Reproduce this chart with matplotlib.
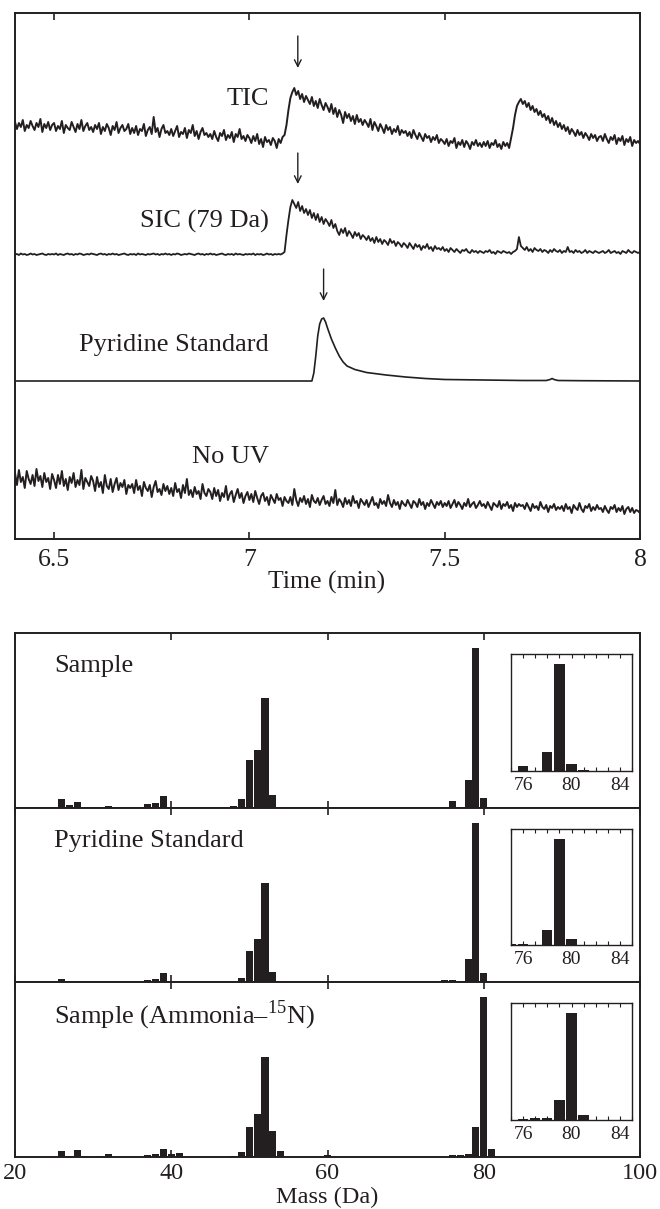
import numpy as np
import matplotlib.pyplot as plt

plt.rcParams['font.family'] = ['Liberation Serif', 'DejaVu Serif']
plt.rcParams['mathtext.fontset'] = 'custom'
plt.rcParams['mathtext.rm'] = 'Liberation Serif'

INK = '#231f20'

# ---- chromatograms (sampled every 0.005 min, 6.40 .. 8.00) ----
time_min = np.round(np.arange(6.40, 8.0001, 0.005), 3)

tic_signal = [
    28, 21, 27, 23, 30, 19, 25, 22, 29, 24, 20, 27, 23, 31, 18, 26, 22, 28, 20, 25,
    27, 19, 24, 21, 29, 17, 25, 22, 20, 28, 23, 18, 26, 21, 30, 19, 24, 27, 20, 23,
    18, 25, 21, 27, 16, 23, 19, 26, 22, 15, 24, 20, 28, 17, 22, 25, 19, 21, 26, 16,
    22, 17, 24, 15, 21, 19, 26, 14, 20, 23, 16, 33, 18, 22, 13, 21, 25, 17, 19, 15,
    21, 14, 19, 24, 13, 18, 16, 22, 12, 20, 17, 25, 14, 19, 11, 18, 22, 15, 17, 13,
    16, 11, 19, 13, 9, 17, 14, 20, 10, 15, 12, 18, 8, 16, 13, 21, 11, 14, 9, 15,
    12, 7, 14, 9, 16, 6, 11, 3, 13, 8, 10, 5, 12, 9, 2, 11, 7, 13, 15, 25,
    40, 52, 58, 62, 55, 59, 51, 56, 48, 54, 50, 46, 53, 44, 49, 42, 51, 45, 40, 47,
    43, 38, 46, 36, 42, 33, 40, 35, 27, 38, 32, 36, 29, 34, 26, 35, 28, 31, 25, 30,
    27, 23, 31, 20, 28, 24, 19, 26, 22, 17, 25, 20, 23, 16, 21, 18, 24, 15, 20, 17,
    19, 14, 18, 12, 20, 15, 11, 17, 13, 9, 16, 12, 14, 8, 13, 10, 15, 7, 11, 9,
    6, 11, 4, 9, 7, 12, 2, 8, 5, 10, 3, 9, 6, 1, 8, 5, 10, 4, 7, 3,
    8, 4, 9, 2, 7, 5, 10, 3, 6, 1, 8, 4, 7, 2, 12, 22, 35, 44, 48, 51,
    46, 49, 43, 47, 40, 44, 38, 41, 35, 39, 33, 36, 30, 34, 27, 32, 25, 29, 23, 27,
    21, 25, 19, 23, 16, 21, 18, 14, 20, 15, 18, 12, 17, 14, 10, 16, 12, 15, 9, 13,
    14, 9, 16, 11, 7, 13, 10, 15, 6, 12, 9, 14, 5, 11, 8, 13, 4, 10, 7, 9,
    6,
]

sic_signal = [
    0.5, 1, 0, 1.5, 0.5, 1, 0, 0.5, 1.5, 0.5, 1, 0, 0.5, 1, 1.5, 0.5, 0, 1, 0.5, 1,
    0.5, 1.5, 0, 1, 0.5, 0, 1, 1.5, 0.5, 1, 0, 1, 0.5, 1.5, 1, 0, 0.5, 1, 0.5, 1.5,
    1, 0.5, 0, 1, 1.5, 0.5, 1, 0, 1, 0.5, 1.5, 0.5, 1, 0, 0.5, 1, 1.5, 0.5, 0, 1,
    0.5, 1, 0, 1.5, 0.5, 1, 0.5, 0, 1, 0.5, 1, 1.5, 0.5, 1, 0, 1, 0.5, 1.5, 0.5, 1,
    0, 1, 0.5, 1.5, 1, 0, 0.5, 1, 0.5, 1.5, 1, 0.5, 0, 1, 1.5, 0.5, 1, 0, 1, 0.5,
    1.5, 0.5, 1, 0, 0.5, 1, 1.5, 0.5, 0, 1, 0.5, 1, 0, 1.5, 0.5, 1, 0.5, 0, 1, 0.5,
    1, 0.5, 1.5, 0, 1, 0.5, 1, 0, 0.5, 1.5, 0.5, 1, 0, 1, 0.5, 1, 0.5, 1.5, 3, 20,
    35, 48, 55, 51, 47, 53, 44, 49, 42, 46, 40, 45, 37, 42, 35, 41, 33, 38, 31, 36,
    33, 29, 35, 27, 31, 24, 20, 26, 22, 27, 19, 24, 21, 17, 23, 19, 22, 16, 20, 18,
    15, 19, 14, 17, 12, 18, 13, 16, 11, 15, 13, 10, 16, 12, 14, 9, 13, 11, 8, 12,
    10, 7, 12, 9, 6, 11, 8, 10, 5, 9, 7, 11, 6, 8, 4, 9, 6, 7, 5, 8,
    4, 6, 3, 7, 5, 3, 6, 4, 2, 5, 4, 6, 3, 2, 5, 3, 4, 2, 4, 3,
    2, 4, 3, 5, 2, 3, 1, 4, 3, 2, 4, 3, 2, 3, 1, 3, 4, 6, 18, 9,
    7, 5, 8, 4, 6, 3, 7, 5, 4, 6, 3, 5, 4, 2, 5, 3, 6, 4, 3, 5,
    2, 4, 3, 8, 3, 4, 2, 5, 3, 4, 2, 3, 5, 2, 4, 3, 2, 4, 3, 2,
    3, 4, 2, 3, 5, 2, 3, 4, 2, 3, 1, 4, 3, 2, 5, 3, 2, 4, 3, 2,
    3,
]

no_uv_signal = [
    42, 30, 45, 33, 38, 27, 44, 36, 31, 40, 29, 46, 34, 39, 28, 42, 33, 37, 26, 41,
    35, 27, 40, 31, 44, 29, 36, 25, 38, 32, 42, 28, 35, 30, 45, 26, 37, 33, 29, 39,
    34, 24, 38, 28, 33, 22, 40, 29, 26, 36, 23, 31, 37, 25, 32, 28, 35, 21, 30, 27,
    31, 22, 35, 25, 29, 19, 33, 27, 24, 30, 18, 28, 34, 23, 26, 20, 31, 24, 29, 21,
    27, 19, 32, 23, 26, 17, 30, 22, 36, 20, 25, 18, 28, 21, 24, 16, 31, 22, 19, 26,
    23, 16, 27, 19, 25, 14, 22, 18, 29, 15, 21, 24, 13, 20, 26, 17, 22, 12, 19, 23,
    15, 21, 13, 24, 17, 11, 19, 22, 14, 18, 10, 20, 16, 12, 21, 15, 17, 9, 18, 14,
    12, 18, 10, 26, 15, 9, 17, 13, 19, 11, 16, 8, 20, 14, 12, 17, 10, 15, 19, 11,
    14, 9, 18, 12, 25, 10, 16, 13, 8, 17, 11, 15, 9, 19, 12, 14, 7, 16, 13, 10,
    15, 8, 13, 18, 10, 12, 7, 16, 11, 14, 9, 20, 12, 8, 15, 10, 13, 6, 14, 11,
    9, 15, 11, 7, 14, 12, 8, 16, 10, 13, 6, 12, 9, 15, 11, 7, 13, 10, 14, 8,
    12, 9, 14, 7, 11, 15, 8, 13, 10, 6, 12, 9, 16, 8, 11, 13, 7, 10, 14, 9,
    11, 7, 13, 9, 5, 12, 10, 8, 14, 6, 11, 9, 13, 7, 10, 4, 12, 8, 11, 9,
    10, 6, 12, 8, 4, 11, 7, 9, 5, 13, 8, 6, 10, 3, 9, 7, 11, 5, 8, 6,
    9, 4, 11, 6, 8, 2, 10, 7, 5, 12, 6, 3, 9, 7, 11, 4, 8, 5, 10, 6,
    7, 3, 9, 5, 2, 8, 6, 10, 3, 7, 4, 9, 1, 6, 8, 3, 7, 2, 5, 4,
    2,
]

pyr_time = [6.40, 7.16, 7.165, 7.17, 7.175, 7.18, 7.185, 7.19, 7.195, 7.20,
            7.21, 7.22, 7.23, 7.24, 7.25, 7.27, 7.30, 7.35, 7.40, 7.45,
            7.50, 7.60, 7.70, 7.76, 7.77, 7.775, 7.78, 7.79, 7.85, 8.00]
pyr_signal = [0, 0, 8, 25, 45, 57, 62, 63, 59, 53,
              42, 33, 25, 19, 15, 11.5, 8.5, 6, 4, 2.5,
              1.5, 1, 0.5, 0.5, 1.5, 2.5, 1.5, 0.5, 0.3, 0]

trace_labels = ['TIC', 'SIC (79 Da)', 'Pyridine Standard', 'No UV']
arrow_times = [7.124, 7.124, 7.19]

# ---- mass spectra ----
sample_mass = [26, 27, 28, 30, 32, 37, 38, 39, 40, 48, 49, 50, 51, 52, 53, 54,
               61, 64, 69, 76, 78, 79, 80, 81, 91, 95]
sample_int = [5.7, 2, 3.8, 0.8, 1.3, 2.5, 3, 7.5, 0.6, 1, 5.7, 30, 36, 69, 8, 0.6,
              0.6, 0.7, 0.6, 4.4, 17.6, 100, 6.3, 0.6, 0.8, 0.8]

pyr_mass = [26, 27, 28, 37, 38, 39, 40, 49, 50, 51, 52, 53, 54,
            75, 76, 77, 78, 79, 80, 81]
pyr_int = [2, 0.7, 0.7, 1.3, 2, 5.7, 0.5, 2.7, 19.6, 27, 62, 6.5, 0.5,
           1.5, 1.5, 0.6, 14.5, 100, 5.7, 0.4]

n15_mass = [26, 27, 28, 29, 31, 32, 33, 34, 37, 38, 39, 40, 41, 48, 49, 50, 51,
            52, 53, 54, 60, 76, 77, 78, 79, 80, 81, 82]
n15_int = [4, 0.6, 4.4, 0.5, 0.4, 2, 0.3, 0.3, 1.3, 1.8, 5.3, 2, 2.7, 0.5, 3.2,
           19, 26.6, 62.7, 16.3, 3.8, 1.5, 1, 1.5, 2, 19, 100, 5, 0.3]

spectra_labels = ['Sample', 'Pyridine Standard', 'Sample (Ammonia\u2013$^{\\mathrm{15}}$N)']

W, H = 660, 1209
fig = plt.figure(figsize=(W / 100, H / 100), dpi=100)

# ---------------- top: chromatograms ----------------
ax = fig.add_axes([15 / W, 1 - 539 / H, 625 / W, 526 / H])
offsets = [389, 284, 158, 24]
ax.plot(time_min, np.array(tic_signal) + offsets[0], color=INK, lw=1.4)
ax.plot(time_min, np.array(sic_signal) + offsets[1], color=INK, lw=1.3)
ax.plot(pyr_time, np.array(pyr_signal) + offsets[2], color=INK, lw=1.2)
ax.plot(time_min, np.array(no_uv_signal) + offsets[3], color=INK, lw=1.4)

label_y = [440, 318, 194, 82]
for name, yy in zip(trace_labels, label_y):
    ax.text(7.05, yy, name, ha='right', va='center', fontsize=19, color=INK)

arrow_y = [(503, 471), (386, 355), (270, 238)]
for t, (y0, y1) in zip(arrow_times, arrow_y):
    ax.annotate('', xy=(t, y1), xytext=(t, y0),
                arrowprops=dict(arrowstyle='->', color=INK, lw=1.0,
                                shrinkA=0, shrinkB=0, mutation_scale=12))

ax.set_xlim(6.4, 8)
ax.set_ylim(0, 526)
ax.set_yticks([])
ax.set_xticks([6.5, 7, 7.5, 8])
ax.set_xticklabels(['6.5', '7', '7.5', '8'])
ax.tick_params(axis='x', direction='in', top=True, length=5, width=1.2,
               labelsize=18.5, pad=7, colors=INK)
for sp in ax.spines.values():
    sp.set_linewidth(1.4)
    sp.set_color(INK)
fig.text(327 / W, 1 - 582 / H, 'Time (min)', ha='center', va='center',
         fontsize=18.5, color=INK)

# ---------------- bottom: spectra ----------------
panels = [(sample_mass, sample_int), (pyr_mass, pyr_int), (n15_mass, n15_int)]
tops = [633, 808, 982]
bottoms = [808, 982, 1157]

for i, ((mass, inten), name) in enumerate(zip(panels, spectra_labels)):
    axm = fig.add_axes([15 / W, 1 - bottoms[i] / H, 625 / W,
                        (bottoms[i] - tops[i]) / H])
    axm.bar(mass, inten, width=0.9, color=INK, linewidth=0)
    axm.set_xlim(20, 100)
    axm.set_ylim(0, 109.5)
    axm.set_yticks([])
    axm.set_xticks([20, 40, 60, 80, 100])
    axm.tick_params(axis='x', direction='in', top=True, length=5, width=1.2,
                    labelsize=17.5, pad=4, colors=INK)
    if i < 2:
        axm.set_xticklabels([])
    for sp in axm.spines.values():
        sp.set_linewidth(1.4)
        sp.set_color(INK)
    axm.text(25, 0.81, name, transform=axm.get_xaxis_transform(),
             ha='left', va='center', fontsize=19, color=INK)

    axin = axm.inset_axes([0.7936, 0.211, 0.1936, 0.669])
    axin.bar(mass, inten, width=0.85, color=INK, linewidth=0)
    axin.set_xlim(75, 85)
    axin.set_ylim(0, 109.5)
    axin.set_yticks([])
    axin.set_xticks(range(75, 86))
    axin.set_xticklabels(['' if m not in (76, 80, 84) else str(m) for m in range(75, 86)])
    axin.tick_params(axis='x', direction='in', top=True, length=3, width=0.8,
                     labelsize=14, pad=4, colors=INK)
    for sp in axin.spines.values():
        sp.set_linewidth(1.0)
        sp.set_color(INK)

fig.text(327 / W, 1 - 1197 / H, 'Mass (Da)', ha='center', va='center',
         fontsize=17.5, color=INK)

fig.savefig('out.png', dpi=100)
